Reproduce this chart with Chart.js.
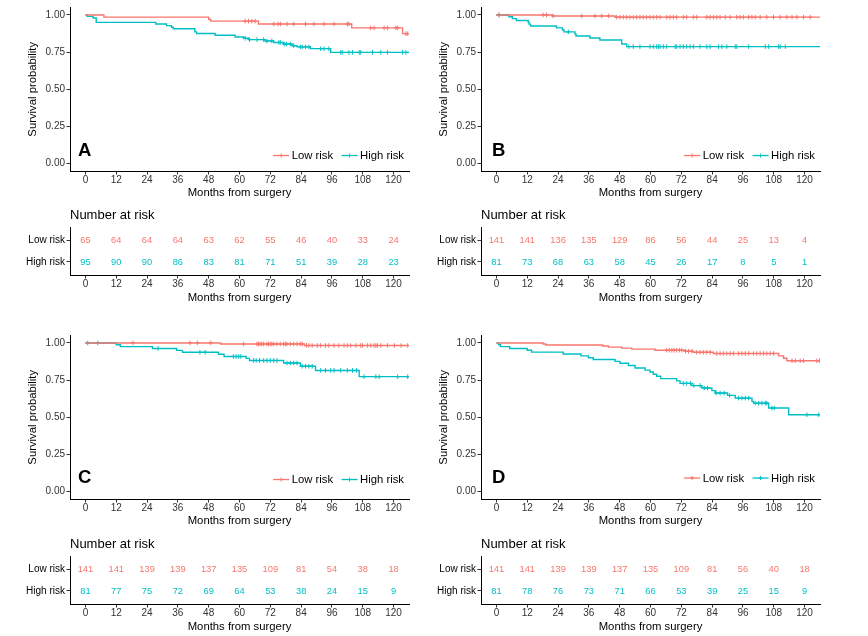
<!DOCTYPE html>
<html><head><meta charset="utf-8">
<script src="https://cdn.jsdelivr.net/npm/chart.js@4.4.1/dist/chart.umd.min.js"></script>
<style>
html,body{margin:0;padding:0;background:#fff;}
body{width:868px;height:636px;overflow:hidden;position:relative;}
canvas{position:absolute;}
</style></head><body>
<canvas id="kmA" width="420" height="200" style="left:0;top:0;width:420px;height:200px"></canvas>
<canvas id="kmB" width="457" height="200" style="left:411px;top:0;width:457px;height:200px"></canvas>
<canvas id="tA" width="420" height="107" style="left:0;top:200px;width:420px;height:107px"></canvas>
<canvas id="tB" width="457" height="107" style="left:411px;top:200px;width:457px;height:107px"></canvas>
<canvas id="kmC" width="420" height="200" style="left:0;top:328px;width:420px;height:200px"></canvas>
<canvas id="kmD" width="457" height="200" style="left:411px;top:328px;width:457px;height:200px"></canvas>
<canvas id="tC" width="420" height="107" style="left:0;top:529px;width:420px;height:107px"></canvas>
<canvas id="tD" width="457" height="107" style="left:411px;top:529px;width:457px;height:107px"></canvas>
<script>
// ---------- shared ----------
const months = [0, 12, 24, 36, 48, 60, 72, 84, 96, 108, 120];
const survTicks = [0, 0.25, 0.5, 0.75, 1];
const groups = ['Low risk', 'High risk'];
const followEnd = 126;

// ---------- Panel A ----------
const aLowT = [7.2, 48.0, 48.8, 67.4, 103.7, 123.5];
const aLowS = [0.985, 0.970, 0.958, 0.939, 0.913, 0.874];
const aLowCens = [62.2, 63.5, 64.8, 66.1, 73.3, 75.0, 75.9, 78.5, 81.1, 85.7, 89.0, 92.9, 96.8, 102.0, 102.6, 111.1, 112.4, 116.3, 117.6, 120.9, 121.6, 124.8, 125.5];
const aHighT = [0.7, 3.0, 4.2, 27.4, 31.6, 33.5, 34.2, 42.6, 43.3, 50.5, 58.3, 61.6, 63.5, 70.0, 73.3, 77.2, 80.5, 82.4, 87.6, 95.5];
const aHighS = [0.990, 0.979, 0.950, 0.939, 0.928, 0.917, 0.907, 0.886, 0.875, 0.863, 0.852, 0.843, 0.834, 0.825, 0.815, 0.804, 0.793, 0.785, 0.773, 0.748];
const aHighCens = [62.2, 63.9, 66.8, 69.4, 70.7, 72.6, 75.3, 75.9, 77.4, 78.3, 79.8, 81.1, 83.7, 84.4, 85.7, 87.0, 91.6, 92.9, 94.8, 99.4, 100.0, 102.6, 104.0, 106.6, 107.2, 111.8, 115.0, 117.6, 123.5, 124.8];
const aLowN = [65, 64, 64, 64, 63, 62, 55, 46, 40, 33, 24];
const aHighN = [95, 90, 90, 86, 83, 81, 71, 51, 39, 28, 23];

// ---------- Panel B ----------
const bLowT = [21.8, 46.2];
const bLowS = [0.993, 0.985];
const bLowCens = [0.9, 18.2, 19.5, 22.1, 33.2, 38.4, 41.0, 43.6, 46.8, 48.1, 49.4, 50.7, 52.0, 53.3, 54.6, 55.9, 57.2, 58.5, 59.8, 61.1, 62.4, 63.7, 66.3, 67.6, 68.9, 70.2, 72.8, 74.1, 76.7, 78.0, 81.9, 83.2, 84.5, 85.8, 87.1, 89.1, 91.0, 93.6, 94.9, 96.2, 98.2, 99.5, 100.8, 102.7, 105.3, 107.9, 110.5, 113.1, 115.1, 117.0, 119.6, 122.2];
const bHighT = [4.9, 6.2, 7.8, 12.4, 12.7, 13.3, 23.4, 25.7, 26.3, 30.6, 31.0, 36.4, 40.3, 48.8, 50.7];
const bHighS = [0.988, 0.975, 0.963, 0.951, 0.938, 0.926, 0.913, 0.899, 0.886, 0.872, 0.858, 0.845, 0.831, 0.804, 0.787];
const bHighCens = [1.0, 28.0, 51.6, 53.3, 55.9, 59.8, 61.1, 62.4, 63.1, 63.7, 65.0, 66.3, 69.6, 70.2, 71.5, 72.8, 74.1, 75.4, 76.7, 79.3, 81.9, 83.2, 86.5, 87.8, 89.7, 93.0, 93.6, 98.2, 104.7, 106.0, 109.9, 110.5, 112.5];
const bLowN = [141, 141, 136, 135, 129, 86, 56, 44, 25, 13, 4];
const bHighN = [81, 73, 68, 63, 58, 45, 26, 17, 8, 5, 1];

// ---------- Panel C ----------
const cLowT = [52.7, 85.3];
const cLowS = [0.993, 0.983];
const cLowCens = [18.5, 40.7, 43.6, 48.8, 61.6, 66.8, 67.4, 68.1, 68.7, 69.4, 70.7, 71.3, 72.0, 72.6, 73.3, 74.6, 75.9, 77.2, 77.9, 78.5, 79.8, 81.1, 82.4, 83.7, 84.4, 86.1, 87.0, 88.3, 90.3, 91.6, 93.5, 94.8, 96.8, 98.7, 100.7, 102.0, 103.3, 105.3, 107.2, 107.9, 109.8, 111.1, 112.4, 113.1, 113.7, 115.0, 117.6, 120.3, 122.9, 125.5];
const cHighT = [12.0, 13.6, 26.1, 35.5, 37.8, 51.8, 54.0, 62.6, 63.9, 77.2, 83.7, 89.6, 106.6];
const cHighS = [0.988, 0.975, 0.963, 0.950, 0.937, 0.924, 0.909, 0.896, 0.882, 0.865, 0.843, 0.815, 0.773];
const cHighCens = [0.9, 4.8, 28.3, 44.6, 46.6, 57.6, 58.7, 59.7, 60.5, 65.5, 66.5, 67.8, 69.4, 70.7, 72.0, 73.3, 74.6, 78.5, 79.8, 81.1, 82.4, 84.4, 85.7, 87.0, 88.3, 91.6, 93.5, 95.5, 96.8, 99.4, 102.0, 104.0, 105.6, 108.5, 113.1, 114.4, 121.6, 125.5];
const cLowN = [141, 141, 139, 139, 137, 135, 109, 81, 54, 38, 18];
const cHighN = [81, 77, 75, 72, 69, 64, 53, 38, 24, 15, 9];

// ---------- Panel D ----------
const dLowT = [18.2, 19.2, 41.4, 43.6, 48.8, 52.7, 61.8, 73.5, 76.7, 84.5, 109.9, 111.8, 113.1];
const dLowS = [0.993, 0.986, 0.979, 0.972, 0.965, 0.958, 0.951, 0.944, 0.937, 0.929, 0.913, 0.897, 0.880];
const dLowCens = [66.3, 67.3, 68.3, 69.2, 70.2, 71.3, 72.2, 73.6, 74.8, 76.1, 78.0, 79.3, 80.6, 81.9, 83.2, 85.8, 87.1, 88.4, 89.7, 91.0, 92.3, 94.3, 95.6, 96.9, 98.2, 100.1, 101.4, 102.7, 104.0, 105.3, 106.6, 107.9, 115.1, 116.4, 118.3, 119.6, 124.8, 125.8];
const dHighT = [0.9, 1.6, 5.2, 12.0, 13.7, 26.0, 32.9, 35.8, 37.7, 46.2, 48.1, 51.4, 54.0, 57.9, 59.8, 61.1, 62.4, 64.0, 70.2, 71.5, 76.1, 80.0, 83.9, 85.2, 90.0, 93.0, 99.5, 100.1, 106.0, 113.8];
const dHighS = [0.988, 0.975, 0.963, 0.951, 0.938, 0.926, 0.913, 0.900, 0.889, 0.876, 0.863, 0.848, 0.831, 0.817, 0.804, 0.789, 0.776, 0.760, 0.745, 0.728, 0.713, 0.697, 0.679, 0.663, 0.647, 0.629, 0.607, 0.595, 0.562, 0.517];
const dHighCens = [72.8, 74.1, 75.6, 76.9, 79.3, 80.9, 82.2, 85.6, 87.1, 88.7, 90.8, 94.3, 95.6, 96.9, 98.2, 100.8, 102.1, 103.4, 104.7, 105.3, 107.3, 108.2, 120.9, 125.5];
const dLowN = [141, 141, 139, 139, 137, 135, 109, 81, 56, 40, 18];
const dHighN = [81, 78, 76, 73, 71, 66, 53, 39, 25, 15, 9];

// ---------- styling ----------
const RED = '#F8766D', CYAN = '#00BFC4';
const FAM = '"Liberation Sans", Arial, Helvetica, sans-serif';

function stepPoints(t, s) {
  const pts = [{x: 0, y: 1}];
  t.forEach((v, i) => pts.push({x: v, y: s[i]}));
  pts.push({x: followEnd, y: s.length ? s[s.length - 1] : 1});
  return pts;
}
function survAt(t, s, x) {
  let v = 1;
  t.forEach((tt, i) => { if (tt <= x) v = s[i]; });
  return v;
}
function censorPoints(t, s, c) { return c.map(x => ({x: x, y: survAt(t, s, x)})); }

const kmDecor = {
  id: 'kmDecor',
  afterDatasetsDraw(chart, args, o) {
    const {ctx, chartArea: a, scales: {y}} = chart;
    ctx.save();
    ctx.fillStyle = '#000';
    ctx.font = 'bold 18.5px ' + FAM;
    ctx.textAlign = 'left'; ctx.textBaseline = 'middle';
    ctx.fillText(o.letter, a.left + o.letterDx, y.getPixelForValue(o.letterAt));
    // legend
    ctx.font = '11.3px ' + FAM;
    const keyW = 16, gap = 2.5, sep = 8.5;
    const w0 = ctx.measureText(groups[0]).width, w1 = ctx.measureText(groups[1]).width;
    const total = keyW + gap + w0 + sep + keyW + gap + w1;
    let x = a.right - 5 - total;
    const ly = y.getPixelForValue(o.legendAt);
    const items = [[groups[0], RED, w0], [groups[1], CYAN, w1]];
    items.forEach(([txt, col, w]) => {
      ctx.strokeStyle = col; ctx.lineWidth = 1.3;
      ctx.beginPath(); ctx.moveTo(x, ly); ctx.lineTo(x + keyW, ly); ctx.stroke();
      ctx.lineWidth = 1;
      const cx = x + keyW / 2;
      ctx.beginPath(); ctx.moveTo(cx - 2, ly); ctx.lineTo(cx + 2, ly); ctx.moveTo(cx, ly - 2); ctx.lineTo(cx, ly + 2); ctx.stroke();
      ctx.fillStyle = '#000';
      ctx.fillText(txt, x + keyW + gap, ly + 0.5);
      x += keyW + gap + w + sep;
    });
    ctx.restore();
  }
};

const tableDecor = {
  id: 'tableDecor',
  afterDatasetsDraw(chart) {
    const {ctx, chartArea: a} = chart;
    ctx.save();
    ctx.fillStyle = '#000';
    ctx.font = '13px ' + FAM;
    ctx.textAlign = 'left'; ctx.textBaseline = 'middle';
    ctx.fillText('Number at risk', a.left, a.top - 12);
    ctx.font = '9.3px ' + FAM;
    ctx.textAlign = 'center';
    chart.data.datasets.forEach((ds, i) => {
      const meta = chart.getDatasetMeta(i);
      ctx.fillStyle = ds.borderColor;
      meta.data.forEach((el, j) => ctx.fillText(String(ds.data[j].n), el.x, el.y + 0.5));
    });
    ctx.restore();
  }
};

function xScale(h, titlePad) {
  return {
    type: 'linear', min: -6, max: 126,
    afterBuildTicks: s => { s.ticks = months.map(v => ({value: v})); },
    afterFit: s => { s.height = h; },
    ticks: {font: {size: 10, family: FAM}, color: '#333', padding: 0, maxRotation: 0, autoSkip: false, callback: v => String(v)},
    grid: {drawOnChartArea: false, drawTicks: true, tickLength: 3.5, color: '#333', lineWidth: 1},
    border: {display: true, color: '#000', width: 1},
    title: {display: true, text: 'Months from surgery', font: {size: 11.3, family: FAM}, color: '#000', padding: {top: 0, bottom: titlePad}}
  };
}

function kmChart(id, lowT, lowS, lowC, highT, highS, highC, deco, padRight) {
  const lineDs = (t, s, col) => ({data: stepPoints(t, s), showLine: true, stepped: true, borderColor: col, borderWidth: 1.4, pointRadius: 0, fill: false});
  const censDs = (t, s, c, col) => ({data: censorPoints(t, s, c), showLine: false, pointStyle: 'cross', pointRadius: 2.3, borderColor: col, borderWidth: 1, backgroundColor: col});
  new Chart(document.getElementById(id), {
    type: 'scatter',
    data: {datasets: [lineDs(lowT, lowS, RED), lineDs(highT, highS, CYAN), censDs(lowT, lowS, lowC, RED), censDs(highT, highS, highC, CYAN)]},
    options: {
      responsive: false, animation: false, events: [],
      layout: {padding: {top: 2, right: padRight, left: 0, bottom: 0}},
      plugins: {legend: {display: false}, tooltip: {enabled: false}, kmDecor: deco},
      scales: {
        x: xScale(29, 0.8),
        y: {
          type: 'linear', min: -0.05, max: 1.05,
          afterBuildTicks: s => { s.ticks = survTicks.map(v => ({value: v})); },
          afterFit: s => { s.width = 70; },
          ticks: {font: {size: 10, family: FAM}, color: '#333', padding: 1.5, callback: v => Number(v).toFixed(2)},
          grid: {drawOnChartArea: false, drawTicks: true, tickLength: 3.5, color: '#333'},
          border: {display: true, color: '#000', width: 1},
          title: {display: true, text: 'Survival probability', font: {size: 11.3, family: FAM}, color: '#000', padding: {top: 26, bottom: 0}}
        }
      }
    },
    plugins: [kmDecor]
  });
}

function tableChart(id, lowN, highN, padRight) {
  const rowDs = (n, row, col) => ({data: months.map((m, i) => ({x: m, y: row, n: n[i]})), showLine: false, pointRadius: 0, borderColor: col});
  new Chart(document.getElementById(id), {
    type: 'scatter',
    data: {datasets: [rowDs(lowN, 2, RED), rowDs(highN, 1, CYAN)]},
    options: {
      responsive: false, animation: false, events: [],
      layout: {padding: {top: 27, right: padRight, left: 0, bottom: 0}},
      plugins: {legend: {display: false}, tooltip: {enabled: false}},
      scales: {
        x: xScale(32, 2.8),
        y: {
          type: 'linear', min: 0.4, max: 2.6,
          afterBuildTicks: s => { s.ticks = [{value: 1}, {value: 2}]; },
          afterFit: s => { s.width = 70; },
          ticks: {font: {size: 10, family: FAM}, color: '#000', padding: 1.5, callback: v => (v === 2 ? groups[0] : groups[1])},
          grid: {drawOnChartArea: false, drawTicks: true, tickLength: 3.5, color: '#333'},
          border: {display: true, color: '#000', width: 1}
        }
      }
    },
    plugins: [tableDecor]
  });
}

kmChart('kmA', aLowT, aLowS, aLowCens, aHighT, aHighS, aHighCens, {letter: 'A', letterDx: 8, letterAt: 0.087, legendAt: 0.054}, 11);
kmChart('kmB', bLowT, bLowS, bLowCens, bHighT, bHighS, bHighCens, {letter: 'B', letterDx: 11, letterAt: 0.087, legendAt: 0.054}, 48);
kmChart('kmC', cLowT, cLowS, cLowCens, cHighT, cHighS, cHighCens, {letter: 'C', letterDx: 8, letterAt: 0.094, legendAt: 0.081}, 11);
kmChart('kmD', dLowT, dLowS, dLowCens, dHighT, dHighS, dHighCens, {letter: 'D', letterDx: 11, letterAt: 0.094, legendAt: 0.091}, 48);
tableChart('tA', aLowN, aHighN, 11);
tableChart('tB', bLowN, bHighN, 48);
tableChart('tC', cLowN, cHighN, 11);
tableChart('tD', dLowN, dHighN, 48);
</script>
</body></html>
